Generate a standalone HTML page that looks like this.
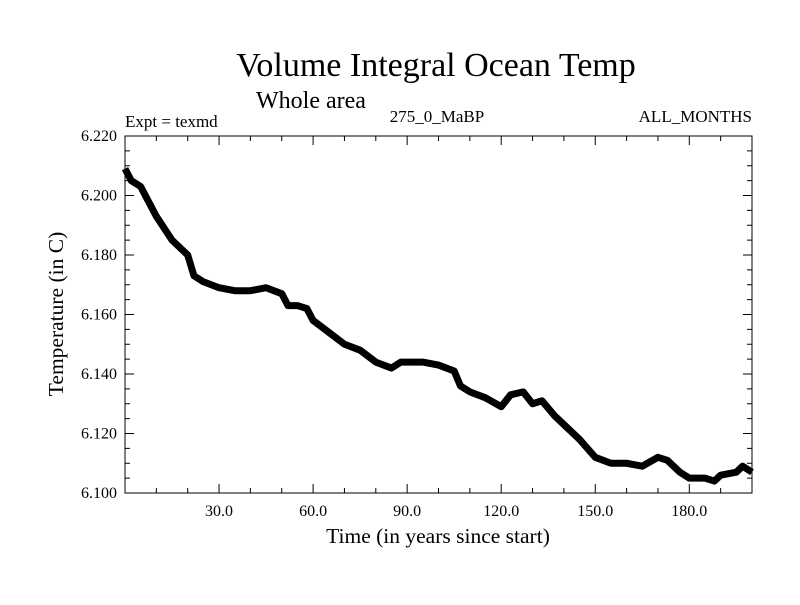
<!DOCTYPE html>
<html><head><meta charset="utf-8"><style>
body{margin:0;background:#fff}
svg text{font-family:"Liberation Serif",serif;fill:#000}
</style></head><body>
<svg id="c" width="800" height="600">
<text x="436" y="76" font-size="34" text-anchor="middle">Volume Integral Ocean Temp</text>
<text x="256" y="108" font-size="24">Whole area</text>
<text x="125" y="127" font-size="17">Expt = texmd</text>
<text x="437" y="122" font-size="17" text-anchor="middle">275_0_MaBP</text>
<text x="752" y="122" font-size="17" text-anchor="end">ALL_MONTHS</text>
<text x="438" y="543" font-size="21.5" text-anchor="middle">Time (in years since start)</text>
<text transform="translate(63,314) rotate(-90)" font-size="21.5" text-anchor="middle">Temperature (in C)</text>
<g id="axes"></g>
<polyline id="series" fill="none" stroke="#000" stroke-width="7" stroke-linejoin="round"/>
<rect x="125" y="136" width="627" height="357" fill="none" stroke="#000" stroke-width="1"/>
</svg>
<script>
const years=[0,2,5,10,15,20,22,25,30,35,40,45,50,52,55,58,60,65,70,75,80,85,88,90,95,100,105,107,110,115,120,123,127,130,133,137,140,145,150,155,160,165,170,173,177,180,185,188,190,195,197,200];
const temps=[6.209,6.205,6.203,6.193,6.185,6.180,6.173,6.171,6.169,6.168,6.168,6.169,6.167,6.163,6.163,6.162,6.158,6.154,6.150,6.148,6.144,6.142,6.144,6.144,6.144,6.143,6.141,6.136,6.134,6.132,6.129,6.133,6.134,6.130,6.131,6.126,6.123,6.118,6.112,6.110,6.110,6.109,6.112,6.111,6.107,6.105,6.105,6.104,6.106,6.107,6.109,6.107];
const xTickLabels=["30.0","60.0","90.0","120.0","150.0","180.0"];
const yTickLabels=["6.100","6.120","6.140","6.160","6.180","6.200","6.220"];
const X0=125,X1=752,Y0=493,Y1=136;
const sx=v=>X0+(v-0)/(200-0)*(X1-X0);
const sy=v=>Y0-(v-6.10)/(6.22-6.10)*(Y0-Y1);
const ns="http://www.w3.org/2000/svg",ax=document.getElementById('axes');
function ln(x1,y1,x2,y2,n){const l=document.createElementNS(ns,'line');l.setAttribute('x1',x1);l.setAttribute('y1',y1);l.setAttribute('x2',x2);l.setAttribute('y2',y2);l.setAttribute('stroke','#000');


ax.appendChild(l);}
function tx(x,y,s,a,n){const t=document.createElementNS(ns,'text');t.setAttribute('x',x);t.setAttribute('y',y);t.setAttribute('font-size','16');t.setAttribute('text-anchor',a);t.textContent=s;


ax.appendChild(t);}
for(let v=10;v<200;v+=10){const x=sx(v),len=v%30===0?9:5;ln(x,Y0,x,Y0-len,'x-tick');ln(x,Y1,x,Y1+len,'x-tick-top');}
xTickLabels.forEach(s=>{tx(sx(parseFloat(s)),Y0+23,s,'middle','x-tick-label');});
for(let i=1;i<24;i++){const v=6.10+i*0.005,y=sy(v),len=i%4===0?9:5;ln(X0,y,X0+len,y,'y-tick');ln(X1,y,X1-len,y,'y-tick-right');}
yTickLabels.forEach(s=>{tx(X0-8,sy(parseFloat(s))+5,s,'end','y-tick-label');});
document.getElementById('series').setAttribute('points',years.map((y,i)=>sx(y)+','+sy(temps[i])).join(' '));
</script>
</body></html>
